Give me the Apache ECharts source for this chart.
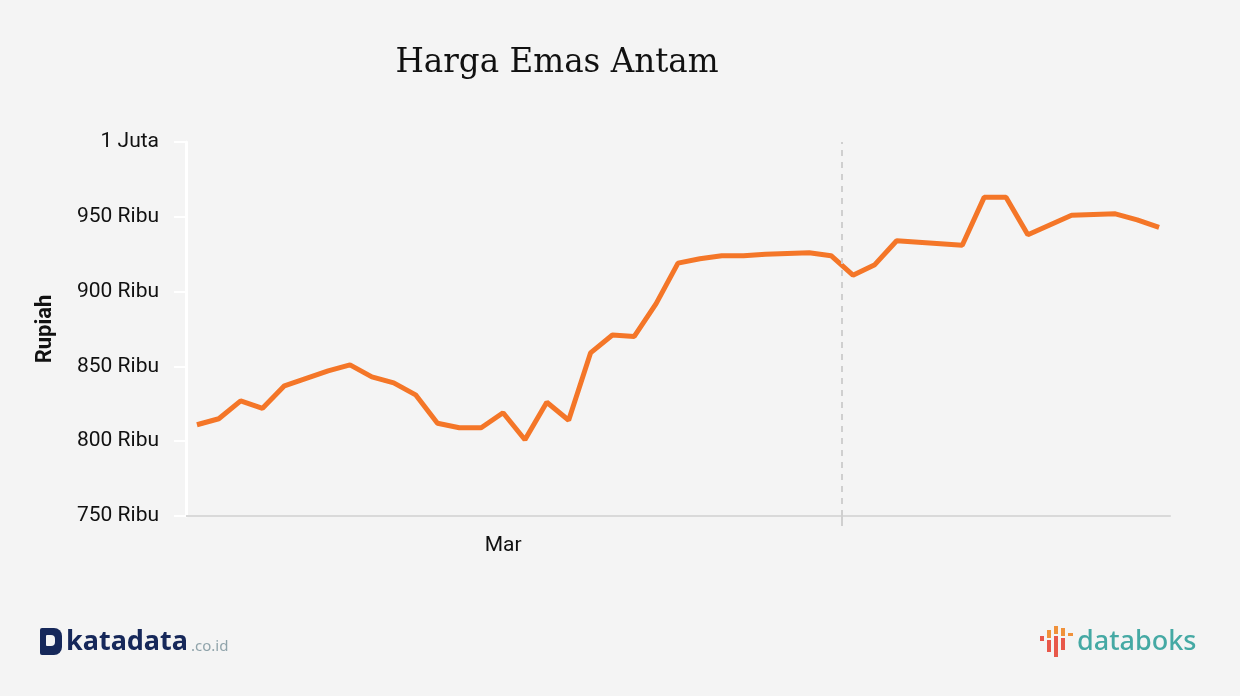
<!DOCTYPE html>
<html>
<head>
<meta charset="utf-8">
<title>Harga Emas Antam</title>
<script src="https://cdn.jsdelivr.net/npm/echarts@6/dist/echarts.min.js"></script>
<style>
  html, body { margin: 0; padding: 0; background: #f4f4f4; }
  #chart { width: 1240px; height: 696px; }
</style>
</head>
<body>
<div id="chart"></div>
<script>
// tanggal (Maret - April)
const days = [
  "1 Mar", "2 Mar", "3 Mar", "4 Mar", "5 Mar", "6 Mar", "7 Mar", "8 Mar", "9 Mar", "10 Mar",
  "11 Mar", "12 Mar", "13 Mar", "14 Mar", "15 Mar", "16 Mar", "17 Mar", "18 Mar", "19 Mar", "20 Mar",
  "21 Mar", "22 Mar", "23 Mar", "24 Mar", "25 Mar", "26 Mar", "27 Mar", "28 Mar", "29 Mar", "30 Mar",
  "1 Apr", "2 Apr", "3 Apr", "4 Apr", "5 Apr", "6 Apr", "7 Apr", "8 Apr", "9 Apr", "10 Apr",
  "11 Apr", "12 Apr", "13 Apr", "14 Apr", "15 Apr"
];
// harga emas Antam per gram (Rp)
const prices = [
  811000, 815000, 827000, 822000, 837000, 842000, 847000, 851000, 843000, 839000,
  831000, 812000, 809000, 809000, 819000, 801000, 826000, 814000, 859000, 871000,
  870000, 892000, 919000, 922000, 924000, 924000, 925000, 925500, 926000, 924000,
  911000, 918000, 934000, 933000, 932000, 931000, 963000, 963000, 938000, 944500,
  951000, 951500, 952000, 948000, 943000
];
const monthLabelIndex = 14;  // posisi label "Mar"
const monthStartIndex = 30;  // batas bulan (garis putus-putus), awal April

const chart = echarts.init(document.getElementById("chart"));

const option = {
  backgroundColor: "#f4f4f4",
  animation: false,
  title: {
    text: "Harga Emas Antam",
    left: 552,
    top: 42,
    textAlign: "center",
    textStyle: {
      fontFamily: "DejaVu Serif",
      fontWeight: "normal",
      fontSize: 32.6,
      color: "#111"
    }
  },
  grid: { left: 186, right: 70, top: 142, bottom: 180 },
  xAxis: [
    {
      type: "category",
      data: days,
      boundaryGap: true,
      axisLine: { lineStyle: { color: "#d9d9d9", width: 2 } },
      axisTick: { show: false },
      splitLine: { show: false },
      axisLabel: {
        interval: (i) => i === monthLabelIndex,
        formatter: () => "Mar",
        margin: 19,
        fontFamily: "Roboto",
        fontSize: 21,
        color: "#111"
      }
    },
    {
      // sumbu bantu (indeks hari) untuk garis batas bulan
      type: "value",
      min: 0,
      max: days.length,
      position: "bottom",
      axisLine: { show: false },
      axisLabel: { show: false },
      splitLine: { show: false },
      axisTick: {
        show: true,
        customValues: [monthStartIndex],
        length: 10,
        lineStyle: { color: "#cfcfcf", width: 2 }
      }
    }
  ],
  yAxis: {
    type: "value",
    min: 750000,
    max: 1000000,
    interval: 50000,
    name: "Rupiah",
    nameLocation: "middle",
    nameGap: 130,
    nameTextStyle: { fontFamily: "Roboto", fontWeight: "bold", fontSize: 22, color: "#111" },
    axisLine: { show: true, lineStyle: { color: "#ffffff", width: 3 } },
    axisTick: { show: true, length: 12, lineStyle: { color: "#ffffff", width: 2 } },
    splitLine: { show: false },
    axisLabel: {
      margin: 27,
      fontFamily: "Roboto",
      fontSize: 21,
      color: "#111",
      formatter: (v) => (v >= 1000000 ? v / 1000000 + " Juta" : v / 1000 + " Ribu")
    }
  },
  series: [
    {
      name: "Harga Emas Antam",
      type: "line",
      data: prices,
      showSymbol: false,
      lineStyle: { color: "#f47628", width: 5 },
      itemStyle: { color: "#f47628" }
    },
    {
      name: "batas bulan",
      type: "line",
      xAxisIndex: 1,
      data: [],
      markLine: {
        silent: true,
        symbol: ["none", "none"],
        label: { show: false },
        lineStyle: { color: "#cfcfcf", width: 2, type: [6, 6] },
        data: [{ xAxis: monthStartIndex }]
      }
    }
  ],
  graphic: [
    // logo katadata
    { type: "rect", left: 40, top: 628, shape: { width: 22, height: 27, r: [2, 8, 8, 2] }, style: { fill: "#16285a" } },
    { type: "rect", left: 46, top: 635, shape: { width: 9, height: 11, r: [1, 4, 4, 1] }, style: { fill: "#f4f4f4" } },
    { type: "text", left: 66, top: 629, style: { text: "katadata", font: "bold 27px 'Noto Sans'", fill: "#16285a" } },
    { type: "text", left: 191, top: 639, style: { text: ".co.id", font: "15px 'Noto Sans'", fill: "#8fa3aa" } },
    // logo databoks
    { type: "rect", left: 1040, top: 636, shape: { width: 4, height: 5 }, style: { fill: "#e8584a" } },
    { type: "rect", left: 1047, top: 630, shape: { width: 4, height: 8 }, style: { fill: "#f0913a" } },
    { type: "rect", left: 1047, top: 640, shape: { width: 4, height: 12 }, style: { fill: "#e8584a" } },
    { type: "rect", left: 1054, top: 626, shape: { width: 4, height: 8 }, style: { fill: "#f0913a" } },
    { type: "rect", left: 1054, top: 636, shape: { width: 4, height: 21 }, style: { fill: "#e8584a" } },
    { type: "rect", left: 1061, top: 628, shape: { width: 4, height: 8 }, style: { fill: "#f0913a" } },
    { type: "rect", left: 1061, top: 638, shape: { width: 4, height: 12 }, style: { fill: "#e8584a" } },
    { type: "rect", left: 1068, top: 633, shape: { width: 5, height: 3 }, style: { fill: "#f0913a" } },
    { type: "text", left: 1077, top: 629, style: { text: "databoks", font: "500 27px 'Noto Sans'", fill: "#45a9a4" } }
  ]
};

chart.setOption(option);
</script>
</body>
</html>
